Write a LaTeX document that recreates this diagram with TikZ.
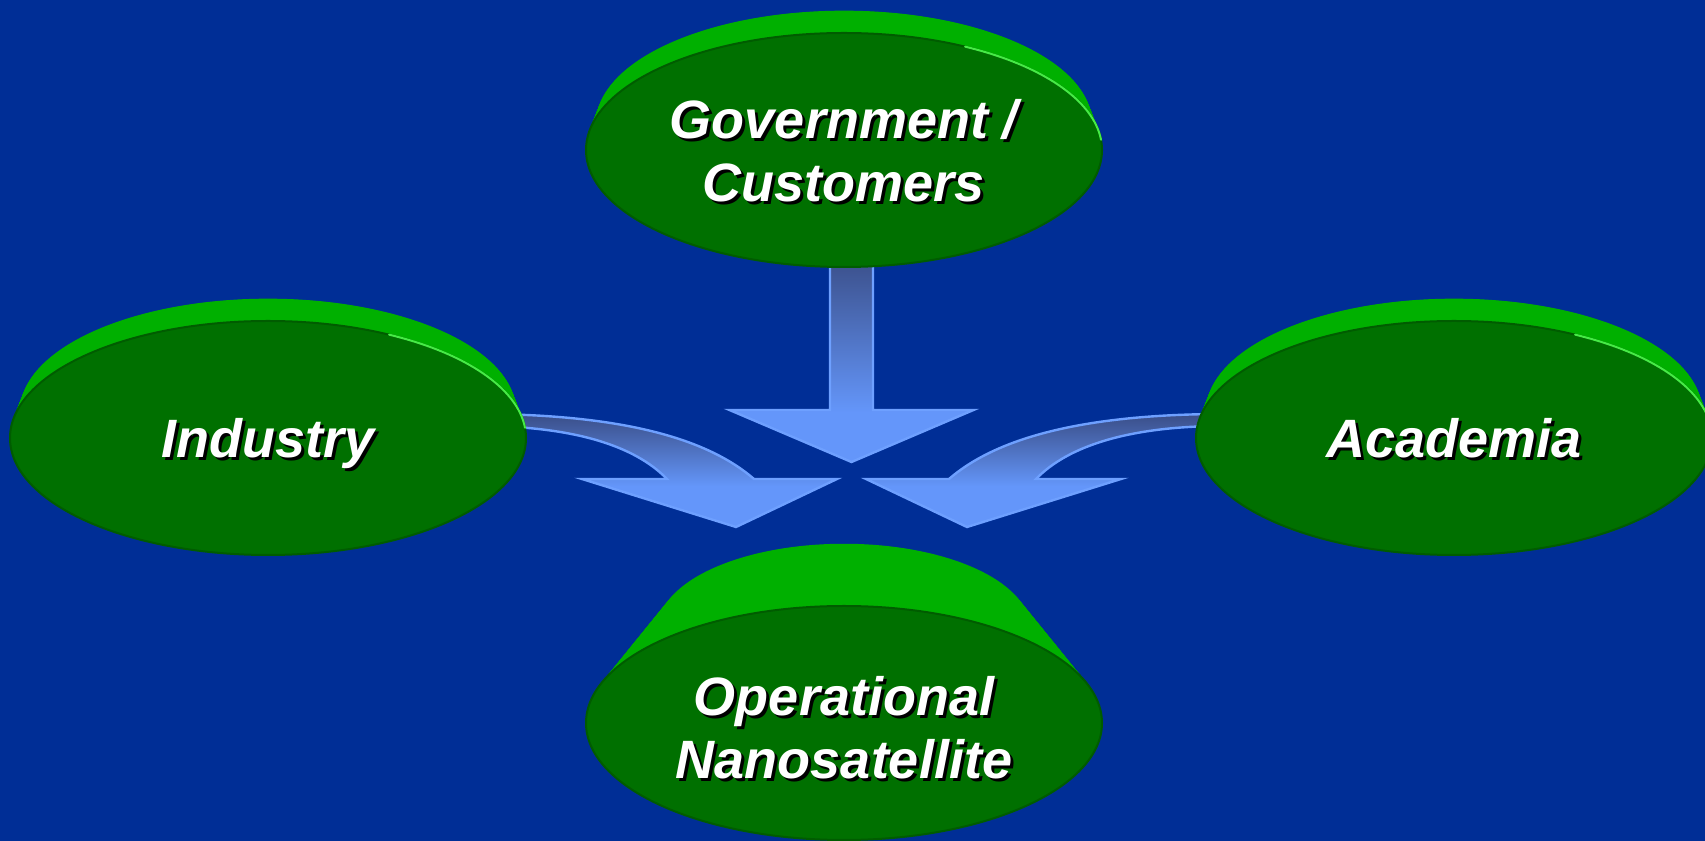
\documentclass[tikz,border=0pt]{standalone}
\usepackage{fontspec}
\setmainfont{Liberation Sans}
\usepackage{tikz}
\usetikzlibrary{shapes.geometric,calc,backgrounds}

\definecolor{bgblue}{RGB}{0,46,150}
\definecolor{facegreen}{RGB}{0,112,0}
\definecolor{facerim}{RGB}{0,92,0}
\definecolor{sidegreen}{RGB}{0,176,0}
\definecolor{rimgreen}{RGB}{70,235,70}
\definecolor{arrowlight}{RGB}{100,150,250}
\definecolor{arrowdark}{RGB}{58,78,136}
\definecolor{arrowrim}{RGB}{110,160,255}

% fades for the block arrows (dark tail, light head)
\pgfdeclareverticalshading{downfade}{100bp}{color(0bp)=(arrowlight); color(37bp)=(arrowlight); color(75bp)=(arrowdark); color(100bp)=(arrowdark)}
\pgfdeclareverticalshading{bendfade}{100bp}{color(0bp)=(arrowlight); color(43bp)=(arrowlight); color(75bp)=(arrowdark); color(100bp)=(arrowdark)}

\newcommand{\labfont}{\fontsize{27}{31.5}\selectfont\bfseries\itshape}

\tikzstyle{face}=[ellipse, fill=facegreen, draw=facerim, line width=1pt, minimum width=258pt, minimum height=117pt, inner sep=0pt]
\tikzstyle{side}=[fill=sidegreen]
\tikzstyle{rimlight}=[draw=rimgreen, line width=1pt, line cap=round]
\tikzstyle{nametext}=[text=white, font=\labfont, align=center, inner sep=0pt, text depth=0pt]
\tikzstyle{nameshadow}=[nametext, text=black]
\tikzstyle{downarrow}=[shade, shading=downfade, draw=arrowrim, line width=1.2pt]
\tikzstyle{bendarrow}=[shade, shading=bendfade, draw=arrowrim, line width=1.2pt]

\begin{document}
\begin{tikzpicture}[x=0.5pt,y=0.5pt]
  \useasboundingbox (0,0) rectangle (1705,841);

  % the four discs
  \node[face] (gov) at (844,691) {};
  \node[face] (ind) at (268,403) {};
  \node[face] (aca) at (1454,403) {};
  \node[face] (ops) at (844,118) {};

  % light edge on the upper right rims
  \foreach \n in {gov,ind,aca}
    \draw[rimlight] ([shift={(62:258 and 117)}]\n.center) arc[start angle=62, end angle=5, x radius=258, y radius=117];

  % names with drop shadow
  \node[nameshadow] (govsh) at ([shift={(3,-3)}]gov.center) {Government /\\Customers};
  \node[nametext] (govtxt) at (gov.center) {Government /\\Customers};
  \node[nameshadow] (indsh) at ([shift={(3,-3)}]ind.center) {Industry};
  \node[nametext] (indtxt) at (ind.center) {Industry};
  \node[nameshadow] (acash) at ([shift={(3,-3)}]aca.center) {Academia};
  \node[nametext] (acatxt) at (aca.center) {Academia};
  \node[nameshadow] (opssh) at ([shift={(3,-7)}]ops.center) {Operational\\Nanosatellite};
  \node[nametext] (opstxt) at ([shift={(0,-4)}]ops.center) {Operational\\Nanosatellite};

  \begin{pgfonlayer}{background}
    \fill[bgblue] (0,0) rectangle (1705,841);

    % extruded sides: sweep of ellipses from the back rim to the face
    \foreach \n/\dy/\s in {gov/27/0.96,ind/27/0.96,aca/27/0.96,ops/95/0.72}
      \foreach \t in {0,0.02,...,1}
        \fill[side] ([shift={(0,{\dy*(1-\t)})}]\n.center) ellipse [x radius={258*(\s+(1-\s)*\t)}, y radius={117*(\s+(1-\s)*\t)}];

    % block arrows meeting above the nanosatellite
    \coordinate (meet) at (851.5,379);
    \begin{scope}[shift={(meet)}]
      \path[downarrow] (-21.5,207) -- (-21.5,52) -- (-122,52) -- (0,0) -- (122,52) -- (21.5,52) -- (21.5,207) -- cycle;
      \foreach \s in {1,-1}
        \path[bendarrow, xscale=\s] (-366,48) .. controls (-221.5,47) and (-141.5,21) .. (-97.5,-17)
          -- (-14.5,-17) -- (-115.5,-65) -- (-269.5,-17) -- (-184.5,-17)
          .. controls (-216.5,16) and (-276.5,35) .. (-366,36) -- cycle;
    \end{scope}
  \end{pgfonlayer}
\end{tikzpicture}
\end{document}
